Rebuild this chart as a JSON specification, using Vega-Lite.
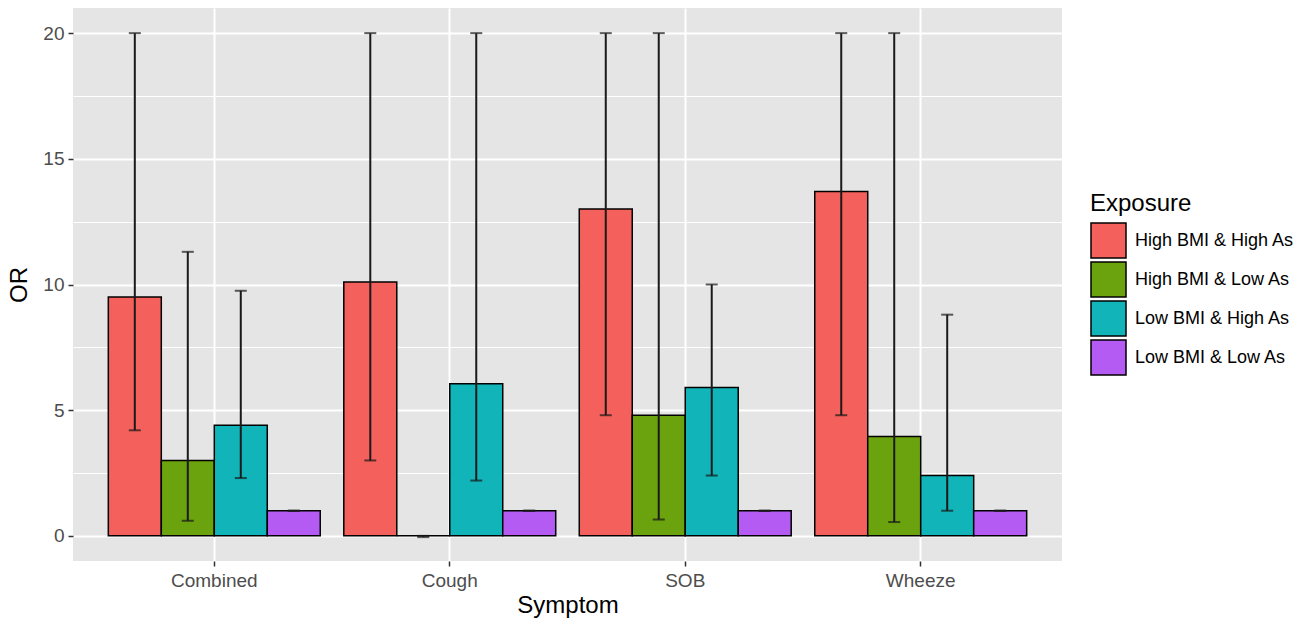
{
  "$schema": "https://vega.github.io/schema/vega-lite/v6.json",
  "autosize": {"type": "none"},
  "padding": {"left": 73, "top": 8, "right": 249, "bottom": 59},
  "width": 989,
  "height": 553,
  "background": "white",
  "config": {
    "font": "Liberation Sans",
    "view": {"fill": "#E5E5E5", "stroke": null},
    "axis": {"domain": false, "gridColor": "white", "labelFont": "Liberation Sans", "titleFont": "Liberation Sans", "titleFontWeight": "normal"}
  },
  "data": {
    "values": [
      {"Symptom": "Combined", "Exposure": "High BMI & High As", "OR": 9.5, "lo": 4.2, "hi": 20},
      {"Symptom": "Combined", "Exposure": "High BMI & Low As", "OR": 3.0, "lo": 0.6, "hi": 11.3},
      {"Symptom": "Combined", "Exposure": "Low BMI & High As", "OR": 4.4, "lo": 2.3, "hi": 9.75},
      {"Symptom": "Combined", "Exposure": "Low BMI & Low As", "OR": 1, "lo": 1, "hi": 1},
      {"Symptom": "Cough", "Exposure": "High BMI & High As", "OR": 10.1, "lo": 3.0, "hi": 20},
      {"Symptom": "Cough", "Exposure": "High BMI & Low As", "OR": 0, "lo": -0.05, "hi": 0},
      {"Symptom": "Cough", "Exposure": "Low BMI & High As", "OR": 6.05, "lo": 2.2, "hi": 20},
      {"Symptom": "Cough", "Exposure": "Low BMI & Low As", "OR": 1, "lo": 1, "hi": 1},
      {"Symptom": "SOB", "Exposure": "High BMI & High As", "OR": 13.0, "lo": 4.8, "hi": 20},
      {"Symptom": "SOB", "Exposure": "High BMI & Low As", "OR": 4.8, "lo": 0.65, "hi": 20},
      {"Symptom": "SOB", "Exposure": "Low BMI & High As", "OR": 5.9, "lo": 2.4, "hi": 10.0},
      {"Symptom": "SOB", "Exposure": "Low BMI & Low As", "OR": 1, "lo": 1, "hi": 1},
      {"Symptom": "Wheeze", "Exposure": "High BMI & High As", "OR": 13.7, "lo": 4.8, "hi": 20},
      {"Symptom": "Wheeze", "Exposure": "High BMI & Low As", "OR": 3.95, "lo": 0.55, "hi": 20},
      {"Symptom": "Wheeze", "Exposure": "Low BMI & High As", "OR": 2.4, "lo": 1.0, "hi": 8.8},
      {"Symptom": "Wheeze", "Exposure": "Low BMI & Low As", "OR": 1, "lo": 1, "hi": 1}
    ]
  },
  "encoding": {
    "x": {
      "field": "Symptom", "type": "nominal",
      "scale": {"paddingInner": 0.1, "paddingOuter": 0.15},
      "axis": {
        "labelAngle": 0, "labelFontSize": 19, "labelColor": "#4D4D4D", "labelPadding": 5,
        "tickColor": "#333333", "tickSize": 5, "tickWidth": 1.5,
        "grid": true, "gridWidth": 2, "bandPosition": 0.5,
        "title": "Symptom", "titleFontSize": 24, "titleColor": "black", "titlePadding": 3
      }
    },
    "xOffset": {"field": "Exposure", "type": "nominal", "scale": {"paddingInner": 0, "paddingOuter": 0}}
  },
  "layer": [
    {
      "mark": {"type": "bar", "stroke": "black", "strokeWidth": 1.5},
      "encoding": {
        "y": {
          "field": "OR", "type": "quantitative",
          "scale": {"domain": [-1, 21], "nice": false, "zero": false},
          "axis": {
            "values": [0, 2.5, 5, 7.5, 10, 12.5, 15, 17.5, 20],
            "labelExpr": "datum.value % 5 === 0 ? datum.label : ''",
            "labelFontSize": 19, "labelColor": "#4D4D4D", "labelPadding": 4,
            "tickColor": "#333333", "tickSize": 5, "tickWidth": 1.5,
            "tickOpacity": {"condition": {"test": "datum.value % 5 === 0", "value": 1}, "value": 0},
            "grid": true,
            "gridWidth": {"condition": {"test": "datum.value % 5 === 0", "value": 2}, "value": 1},
            "title": "OR", "titleFontSize": 24, "titleColor": "black", "titlePadding": 11
          }
        },
        "color": {
          "field": "Exposure", "type": "nominal",
          "scale": {"range": ["#F4605B", "#6AA30E", "#11B4B8", "#B45BF3"]},
          "legend": {
            "orient": "none", "legendX": 1017, "legendY": 184, "padding": 0,
            "title": "Exposure", "titleFontSize": 24, "titleFontWeight": "normal", "titleColor": "black", "titlePadding": 6,
            "labelFontSize": 18, "labelColor": "black", "labelOffset": 8, "labelLimit": 0,
            "symbolType": "square", "symbolSize": 1225, "symbolStrokeColor": "black", "symbolStrokeWidth": 1.5,
            "symbolFillOpacity": 1, "rowPadding": -2
          }
        }
      }
    },
    {
      "mark": {"type": "rule", "color": "#1A1A1A", "strokeWidth": 2},
      "encoding": {
        "y": {"field": "lo", "type": "quantitative"},
        "y2": {"field": "hi"}
      }
    },
    {
      "mark": {"type": "tick", "color": "#1A1A1A", "thickness": 2, "size": 12},
      "encoding": {"y": {"field": "lo", "type": "quantitative"}}
    },
    {
      "mark": {"type": "tick", "color": "#1A1A1A", "thickness": 2, "size": 12},
      "encoding": {"y": {"field": "hi", "type": "quantitative"}}
    }
  ]
}
